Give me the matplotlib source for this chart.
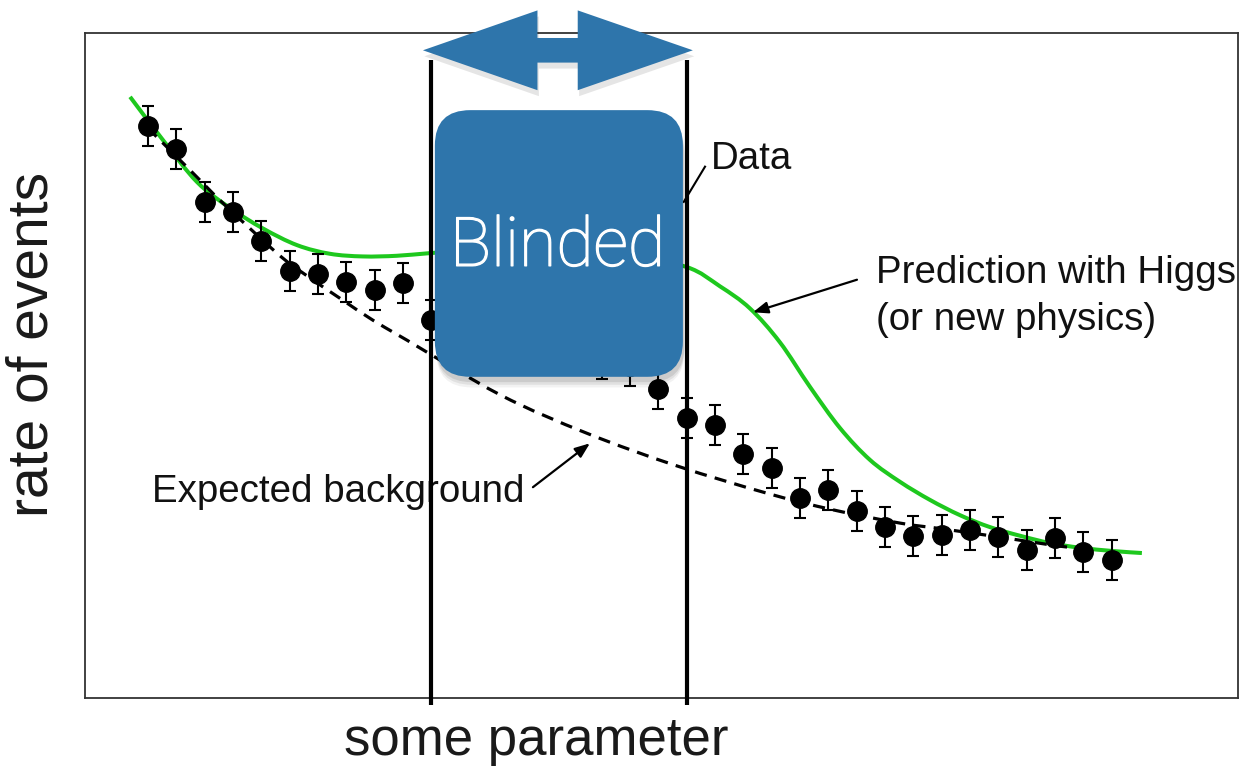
import numpy as np
import matplotlib
matplotlib.use("Agg")
import matplotlib.pyplot as plt
import matplotlib.patheffects as pe
from matplotlib.patches import FancyBboxPatch, Polygon, PathPatch
from matplotlib.path import Path

# ---------------- data ----------------
bins = list(range(35))
data_rate = [86.0, 82.6, 74.6, 73.1, 68.7, 64.2, 63.8, 62.6, 61.4, 62.4,
             56.8, 55.6, 54.6, 53.7, 52.8, 51.9, 51.0, 49.9, 46.5, 42.1,
             41.1, 36.7, 34.6, 30.1, 31.3, 28.1, 25.7, 24.4, 24.5, 25.3,
             24.2, 22.3, 24.1, 22.0, 20.8]
data_err = [3.0] * 35

signal_x = [-0.63, 0.53, 1.73, 2.89, 4.06, 5.26, 6.42, 7.58, 8.78, 9.95,
            11.71, 13.47, 15.24, 17.0,
            19.01, 20.18, 21.23, 22.29, 23.35, 24.41, 25.47, 26.53, 27.58,
            28.64, 29.70, 30.76, 31.82, 32.87, 34.04, 35.06]
signal_y = [90.4, 83.9, 77.6, 73.7, 70.6, 68.1, 66.8, 66.4, 66.5, 66.9,
            67.4, 67.6, 67.3, 66.4,
            64.8, 61.9, 58.6, 53.5, 46.8, 40.6, 35.8, 32.5, 29.8,
            27.5, 25.7, 24.4, 23.3, 22.6, 22.1, 21.8]

bkg_x = [0.0, 1.48, 2.65, 4.55, 5.47, 6.88, 7.94, 9.14, 12.42, 15.49,
         18.66, 21.83, 24.16, 26.53, 28.08, 30.19, 32.03, 32.70]
bkg_y = [85.7, 79.4, 74.4, 66.9, 63.9, 59.8, 56.8, 53.8, 45.6, 39.8,
         34.9, 30.8, 28.3, 26.3, 25.4, 24.1, 22.9, 22.6]

blind_lo, blind_hi = 10, 19

x_label = "some parameter"
y_label = "rate of events"
blind_text = "Blinded"
lbl_data = "Data"
lbl_sig1 = "Prediction with Higgs"
lbl_sig2 = "(or new physics)"
lbl_bkg = "Expected background"

BLUE = "#2e75ab"
GREEN = "#1ec81e"


def smooth_path(xs, ys):
    """Catmull-Rom rendering of the read points as cubic Bezier segments."""
    p = np.column_stack([xs, ys]).astype(float)
    verts = [p[0]]
    codes = [Path.MOVETO]
    n = len(p)
    for i in range(n - 1):
        p0 = p[i - 1] if i > 0 else p[i]
        p1, p2 = p[i], p[i + 1]
        p3 = p[i + 2] if i + 2 < n else p[i + 1]
        c1 = p1 + (p2 - p0) / 6.0
        c2 = p2 - (p3 - p1) / 6.0
        verts += [c1, c2, p2]
        codes += [Path.CURVE4] * 3
    return Path(verts, codes)


# ---------------- figure ----------------
fig = plt.figure(figsize=(12.41, 7.76), dpi=100)
ax = fig.add_axes([85/1241, 78/776, 1153/1241, 665/776])
ax.set_xlim(-2.22, 38.45)
ax.set_ylim(0, 100)
ax.set_xticks([])
ax.set_yticks([])
for s in ax.spines.values():
    s.set_linewidth(1.3)
    s.set_color("#333333")

# curves
ax.add_patch(PathPatch(smooth_path(signal_x, signal_y), facecolor="none",
                       edgecolor=GREEN, lw=2.9, zorder=3, capstyle="butt"))
ax.add_patch(PathPatch(smooth_path(bkg_x, bkg_y), facecolor="none",
                       edgecolor="black", lw=2.3, ls=(0, (3.8, 2.6)), zorder=3))

# data points
ax.errorbar(bins, data_rate, yerr=data_err, fmt="o", color="black",
            markersize=14, elinewidth=1.5, capsize=4, capthick=1.5, zorder=4)

# vertical lines marking blinded region
for xv in (blind_lo, blind_hi):
    ax.plot([xv, xv], [96.0, -1.0], color="black", lw=3.0, zorder=6,
            clip_on=False, solid_capstyle="butt")

# annotations
txt_kw = dict(family="Liberation Sans", fontsize=27.7, color="#111111")
ax.text(19.86, 79.5, lbl_data, ha="left", va="baseline", **txt_kw)
ax.plot([19.65, 18.9], [79.9, 74.6], color="black", lw=1.5, zorder=2)
ax.text(25.68, 62.4, lbl_sig1, ha="left", va="baseline", **txt_kw)
ax.text(25.68, 55.3, lbl_sig2, ha="left", va="baseline", **txt_kw)
ax.annotate("", xy=(21.34, 58.0), xytext=(25.01, 62.9),
            arrowprops=dict(arrowstyle="-|>,head_length=0.9,head_width=0.35",
                            color="black", lw=1.6, shrinkA=0, shrinkB=0))
ax.text(0.14, 29.5, lbl_bkg, ha="left", va="baseline", **txt_kw)
ax.annotate("", xy=(15.59, 38.3), xytext=(13.58, 31.7),
            arrowprops=dict(arrowstyle="-|>,head_length=0.9,head_width=0.35",
                            color="black", lw=1.6, shrinkA=0, shrinkB=0))

# blinded box (with soft shadow)
aspect = (1153 / (38.45 + 2.22)) / (665 / 100.0)
bx0, bx1 = blind_lo + 0.12, blind_hi - 0.13
by0, by1 = 48.3, 88.4
rnd = 1.25
for k, a in [(1.6, 0.05), (1.2, 0.07), (0.8, 0.09)]:
    sh = FancyBboxPatch((bx0 + 0.05, by0 - k), bx1 - bx0, by1 - by0,
                        boxstyle=f"round,pad=0,rounding_size={rnd}",
                        mutation_aspect=aspect, facecolor="black", alpha=a,
                        edgecolor="none", zorder=7, clip_on=False)
    ax.add_patch(sh)
box = FancyBboxPatch((bx0, by0), bx1 - bx0, by1 - by0,
                     boxstyle=f"round,pad=0,rounding_size={rnd}",
                     mutation_aspect=aspect, facecolor=BLUE, edgecolor="none",
                     zorder=8, clip_on=False)
ax.add_patch(box)
ax.text((bx0 + bx1) / 2 - 0.05, 67.8, blind_text, ha="center", va="center",
        family=["Roboto", "DejaVu Sans"], fontweight="light", fontsize=49,
        color="white", zorder=9,
        path_effects=[pe.withStroke(linewidth=0.9, foreground="white")])

# double arrow spanning the blinded region
xl, xr = blind_lo - 0.30, blind_hi + 0.22
xc = (xl + xr) / 2
hb_l, hb_r = xc - 0.72, xc + 0.70
yc, hh, sh_h = 97.4, 6.0, 1.85
pts = [(xl, yc), (hb_l, yc + hh), (hb_l, yc + sh_h), (hb_r, yc + sh_h),
       (hb_r, yc + hh), (xr, yc), (hb_r, yc - hh), (hb_r, yc - sh_h),
       (hb_l, yc - sh_h), (hb_l, yc - hh)]
shadow_pts = [(px + 0.05, py - 0.9) for px, py in pts]
ax.add_patch(Polygon(shadow_pts, closed=True, facecolor="black", alpha=0.10,
                     edgecolor="none", zorder=7, clip_on=False))
ax.add_patch(Polygon(pts, closed=True, facecolor=BLUE, edgecolor="none",
                     zorder=8, clip_on=False))

# axis labels
ax.text(0.391, -0.0857, x_label, transform=ax.transAxes, ha="center",
        va="baseline", family="Liberation Sans", fontsize=38, color="#1a1a1a")
ax.text(-0.0451, 0.5315, y_label, transform=ax.transAxes, ha="center",
        va="center", rotation=90, family="Liberation Sans", fontsize=41,
        color="#1a1a1a")

fig.savefig("out.png", dpi=100)
